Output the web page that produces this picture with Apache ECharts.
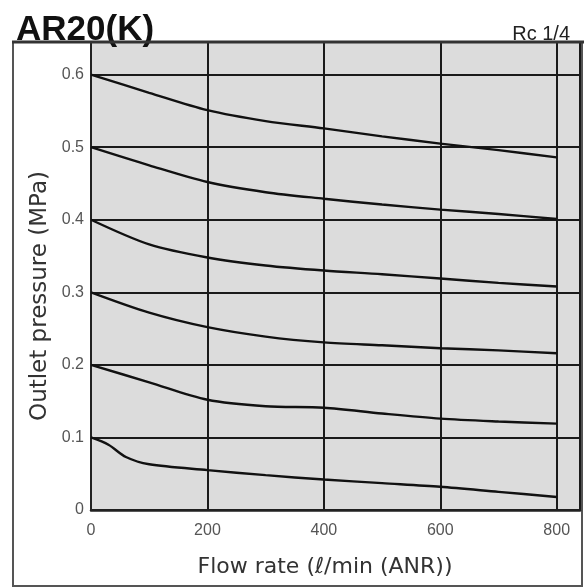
<!DOCTYPE html>
<html>
<head>
<meta charset="utf-8">
<script src="https://cdn.jsdelivr.net/npm/echarts@6/dist/echarts.min.js"></script>
<style>html,body{margin:0;padding:0;background:#fff}#c{width:584px;height:588px}</style>
</head>
<body>
<div id="c"></div>
<script>
// Flow rate (ℓ/min ANR) sample points
const flow = [0, 100, 200, 300, 400, 500, 600, 700, 800];
const flowLow = [0, 30, 60, 100, 200, 300, 400, 500, 600, 700, 800];
// Outlet pressure (MPa) per set pressure
const p06 = [0.600, 0.575, 0.551, 0.536, 0.526, 0.515, 0.505, 0.496, 0.486];
const p05 = [0.500, 0.475, 0.452, 0.438, 0.429, 0.421, 0.414, 0.408, 0.401];
const p04 = [0.400, 0.366, 0.348, 0.337, 0.330, 0.325, 0.319, 0.313, 0.308];
const p03 = [0.300, 0.272, 0.252, 0.239, 0.231, 0.227, 0.223, 0.220, 0.216];
const p02 = [0.200, 0.176, 0.152, 0.143, 0.141, 0.133, 0.126, 0.122, 0.119];
const p01 = [0.100, 0.090, 0.073, 0.063, 0.055, 0.048, 0.042, 0.037, 0.032, 0.025, 0.018];
const xTicks = [0, 200, 400, 600, 800];
const yTicks = [0, 0.1, 0.2, 0.3, 0.4, 0.5, 0.6];
const xTitle = 'Flow rate (ℓ/min (ANR))';
const yTitle = 'Outlet pressure (MPa)';

function pairs(xs, ys) { return xs.map((x, i) => [x, ys[i]]); }
const curves = [
  pairs(flow, p06), pairs(flow, p05), pairs(flow, p04),
  pairs(flow, p03), pairs(flow, p02), pairs(flowLow, p01)
];

const chart = echarts.init(document.getElementById('c'));
const font = 'Liberation Sans, Arial, sans-serif';
const wide = 'DejaVu Sans, sans-serif';
chart.setOption({
  animation: false,
  title: [
    { text: 'AR20(K)', left: 11, top: 8, textStyle: { fontSize: 35, fontWeight: 'bold', color: '#111', fontFamily: font } },
    { text: 'Rc 1/4', right: 9, top: 19, textStyle: { fontSize: 20, fontWeight: 'normal', color: '#222', fontFamily: font } }
  ],
  graphic: [
    { type: 'rect', shape: { x: 13, y: 42, width: 569, height: 544 }, style: { fill: 'none', stroke: '#555', lineWidth: 2 }, z: 0 },
    { type: 'line', shape: { x1: 12, y1: 42, x2: 584, y2: 42 }, style: { stroke: '#333', lineWidth: 3 }, z: 10 },
    { type: 'text', x: 325, y: 567, style: { text: xTitle, font: '22px ' + wide, fill: '#333', textAlign: 'center', textVerticalAlign: 'middle' }, z: 10 },
    { type: 'text', x: 40, y: 296, rotation: Math.PI / 2, style: { text: yTitle, font: '23px ' + wide, fill: '#333', textAlign: 'center', textVerticalAlign: 'middle' }, z: 10 }
  ],
  grid: { left: 91, top: 42, width: 489, height: 468, show: true, backgroundColor: '#dcdcdc', borderColor: '#222', borderWidth: 2 },
  xAxis: {
    type: 'value', min: 0, max: 840, interval: 200,
    axisLine: { show: true, lineStyle: { color: '#222', width: 2.5 } },
    axisTick: { show: false },
    splitLine: { show: true, lineStyle: { color: '#1a1a1a', width: 2 } },
    axisLabel: { fontSize: 16, color: '#555', fontFamily: font, margin: 13,
      formatter: v => xTicks.includes(v) ? String(v) : '' }
  },
  yAxis: {
    type: 'value', min: 0, max: 0.645, interval: 0.1,
    axisLine: { show: true, lineStyle: { color: '#222', width: 2 } },
    axisTick: { show: false },
    splitLine: { show: true, lineStyle: { color: '#1a1a1a', width: 2 } },
    axisLabel: { fontSize: 16, color: '#555', fontFamily: font, margin: 7,
      formatter: v => { const t = yTicks.find(k => Math.abs(k - v) < 1e-6); return t === undefined ? '' : (t === 0 ? '0' : t.toFixed(1)); } }
  },
  series: curves.map(d => ({
    type: 'line', data: d, smooth: 0.3, showSymbol: false,
    lineStyle: { color: '#111', width: 2.4 }, z: 5
  }))
});
</script>
</body>
</html>
